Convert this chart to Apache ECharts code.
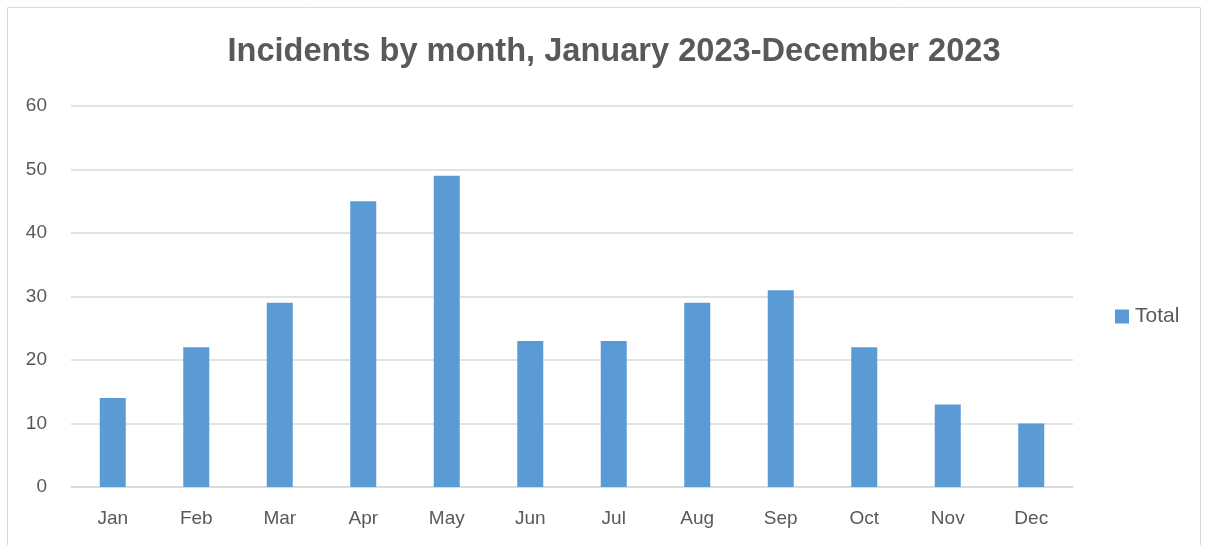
<!DOCTYPE html>
<html>
<head>
<meta charset="utf-8">
<script src="https://cdn.jsdelivr.net/npm/echarts@6/dist/echarts.min.js"></script>
<style>
  html, body { margin: 0; padding: 0; background: #fff; }
  #chart { width: 1205px; height: 545px; }
</style>
</head>
<body>
<div id="chart"></div>
<script>
// data
var months = ['Jan', 'Feb', 'Mar', 'Apr', 'May', 'Jun', 'Jul', 'Aug', 'Sep', 'Oct', 'Nov', 'Dec'];
var totals = [14, 22, 29, 45, 49, 23, 23, 29, 31, 22, 13, 10];
var yTicks = [0, 10, 20, 30, 40, 50, 60];

var myChart = echarts.init(document.getElementById('chart'));
var textColor = '#595959';
var fontFam = '"Liberation Sans", Arial, sans-serif';

var option = {
    animation: false,
    graphic: [{
        type: 'rect',
        shape: { x: 7.5, y: 7.5, width: 1193, height: 560 },
        style: { fill: 'none', stroke: '#d9d9d9', lineWidth: 1 },
        silent: true
    }],
    title: {
        text: 'Incidents by month, January 2023-December 2023',
        left: 609,
        textAlign: 'center',
        top: 31,
        textStyle: { color: textColor, fontSize: 32.6, fontWeight: 'bold', fontFamily: fontFam }
    },
    legend: {
        data: ['Total'],
        orient: 'vertical',
        left: 1115,
        top: 306,
        padding: 0,
        itemWidth: 14,
        itemHeight: 14,
        icon: 'rect',
        textStyle: { color: textColor, fontSize: 21, fontFamily: fontFam, padding: [0, 0, 0, 1] }
    },
    grid: { left: 71, right: 132, top: 106, bottom: 58 },
    xAxis: {
        type: 'category',
        data: months,
        axisLine: { lineStyle: { color: '#d9d9d9', width: 1.5 } },
        axisTick: { show: false },
        axisLabel: { color: textColor, fontSize: 19, fontFamily: fontFam, margin: 22 }
    },
    yAxis: {
        type: 'value',
        min: yTicks[0],
        max: yTicks[yTicks.length - 1],
        interval: 10,
        axisLine: { show: false },
        axisTick: { show: false },
        splitLine: { lineStyle: { color: '#d9d9d9', width: 1.5 } },
        axisLabel: { color: textColor, fontSize: 19, fontFamily: fontFam, margin: 24 }
    },
    series: [{
        name: 'Total',
        type: 'bar',
        data: totals,
        barWidth: 26,
        itemStyle: { color: '#5b9bd5' }
    }]
};
myChart.setOption(option);
</script>
</body>
</html>
